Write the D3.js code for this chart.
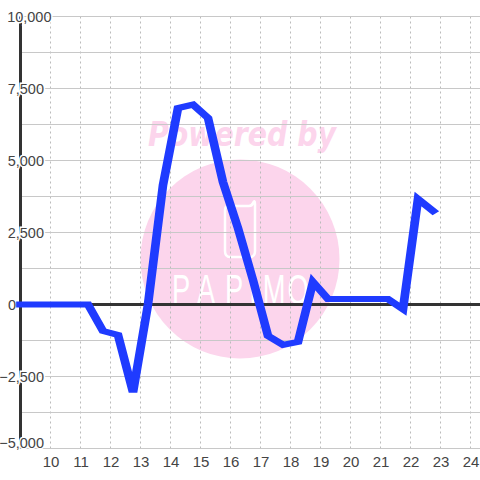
<!DOCTYPE html>
<html>
<head>
<meta charset="utf-8">
<script src="https://cdn.jsdelivr.net/npm/d3@7"></script>
<style>
html, body { margin: 0; padding: 0; background: #fff; }
svg { display: block; }
text { font-family: "Liberation Sans", Arial, sans-serif; }
</style>
</head>
<body>
<svg id="chart" width="480" height="480"></svg>
<script>
const hours = [9, 9.75, 10.25, 10.75, 11.25, 11.75, 12.25, 12.75, 13.25, 13.75, 14.25, 14.75, 15.25, 15.75, 16.25, 16.75, 17.25, 17.75, 18.25, 18.75, 19.25, 19.75, 20.25, 20.75, 21.25, 21.75, 22.25, 22.75];
const values = [0, 0, 0, 0, 0, -920, -1060, -3050, 0, 4150, 6820, 6940, 6480, 4250, 2650, 850, -1090, -1400, -1300, 780, 190, 190, 190, 190, 190, -160, 3660, 3250];
const xTicks = [10, 11, 12, 13, 14, 15, 16, 17, 18, 19, 20, 21, 22, 23, 24];
const yLabelTicks = [-5000, -2500, 0, 2500, 5000, 7500, 10000];
const yGridTicks = [-5000, -3750, -2500, -1250, 0, 1250, 2500, 3750, 5000, 6250, 7500, 8750, 10000];
const logoLetters = ['P', 'A', 'P', 'I', 'M', 'O'];
const logoCentres = [181, 206, 234, 253, 274, 298];

const svg = d3.select('#chart');
const x = d3.scaleLinear().domain([9, 24]).range([20.5, 470.5]);
const y = d3.scaleLinear().domain([-5000, 10000]).range([448.5, 16.5]);

// watermark
const mark = svg.append('g');
mark.append('circle').attr('cx', 240).attr('cy', 259).attr('r', 99.5).attr('fill', '#fcd5ec');
mark.append('text').attr('x', 242).attr('y', 146).attr('text-anchor', 'middle')
    .attr('font-size', 33).attr('font-weight', 'bold').attr('font-style', 'italic')
    .attr('fill', '#fcd5ec').style('font-family', '"DejaVu Sans"')
    .attr('textLength', 188).attr('lengthAdjust', 'spacingAndGlyphs').text('Powered by');
mark.append('path')
    .attr('d', 'M229 206 H249 Q252 206 253 203 Q255 199 255 204 V251 Q255 257 250 257 H230 Q225 257 225 251 V210 Q225 206 229 206 Z')
    .attr('fill', 'none').attr('stroke', '#fff').attr('stroke-width', 2.5);
mark.append('g').selectAll('text').data(logoLetters).join('text')
    .attr('transform', (d, i) => `translate(${logoCentres[i]},304) scale(0.65,1)`)
    .attr('text-anchor', 'middle')
    .attr('font-size', 42).attr('fill', '#fff')
    .text(d => d);

// grid
svg.append('g').selectAll('line').data(xTicks).join('line')
    .attr('x1', d => x(d)).attr('x2', d => x(d))
    .attr('y1', y(10000)).attr('y2', y(-5000))
    .attr('stroke', '#bbb').attr('stroke-dasharray', '2,3');
svg.append('g').selectAll('line').data(yGridTicks).join('line')
    .attr('x1', x(9)).attr('x2', 480)
    .attr('y1', d => y(d)).attr('y2', d => y(d))
    .attr('stroke', '#c8c8c8').attr('stroke-width', 1);

// axis lines
svg.append('line').attr('x1', x(9)).attr('x2', x(9)).attr('y1', y(10000)).attr('y2', y(-5000))
    .attr('stroke', '#333').attr('stroke-width', 3);
svg.append('line').attr('x1', x(9)).attr('x2', 480).attr('y1', y(0)).attr('y2', y(0))
    .attr('stroke', '#333').attr('stroke-width', 3);

// labels, white halo cuts the lines behind them
const yAxis = svg.append('g')
    .attr('transform', 'translate(44,0)')
    .call(d3.axisLeft(y).tickValues(yLabelTicks).tickSize(0).tickPadding(0).tickFormat(d3.format(',')));
yAxis.select('.domain').remove();
yAxis.selectAll('text')
    .attr('dy', d => d === -5000 ? '-0.05em' : '0.35em')
    .attr('x', d => d === 10000 ? 7.5 : d === 0 ? -28 : 0)
    .attr('fill', '#444')
    .attr('stroke', '#fff').attr('stroke-width', 3).attr('paint-order', 'stroke')
    .style('font-size', '14.5px').style('font-family', '"Liberation Sans"');

const xAxis = svg.append('g')
    .attr('transform', 'translate(0,448.5)')
    .call(d3.axisBottom(x).tickValues(xTicks).tickSize(0).tickPadding(8).tickFormat(d3.format('d')));
xAxis.select('.domain').remove();
xAxis.selectAll('text')
    .attr('fill', '#444')
    .style('font-size', '15px').style('font-family', '"Liberation Sans"');

// series, pen is wider than tall in the reference so stretch the stroke sideways
const penStretch = 1.45;
const line = d3.line().x((d, i) => x(hours[i]) / penStretch).y(d => y(d));
svg.append('g').attr('transform', `scale(${penStretch},1)`)
    .append('path').datum(values)
    .attr('d', line)
    .attr('fill', 'none')
    .attr('stroke', '#1f3bff')
    .attr('stroke-width', 6)
    .attr('stroke-linecap', 'square');
</script>
</body>
</html>
